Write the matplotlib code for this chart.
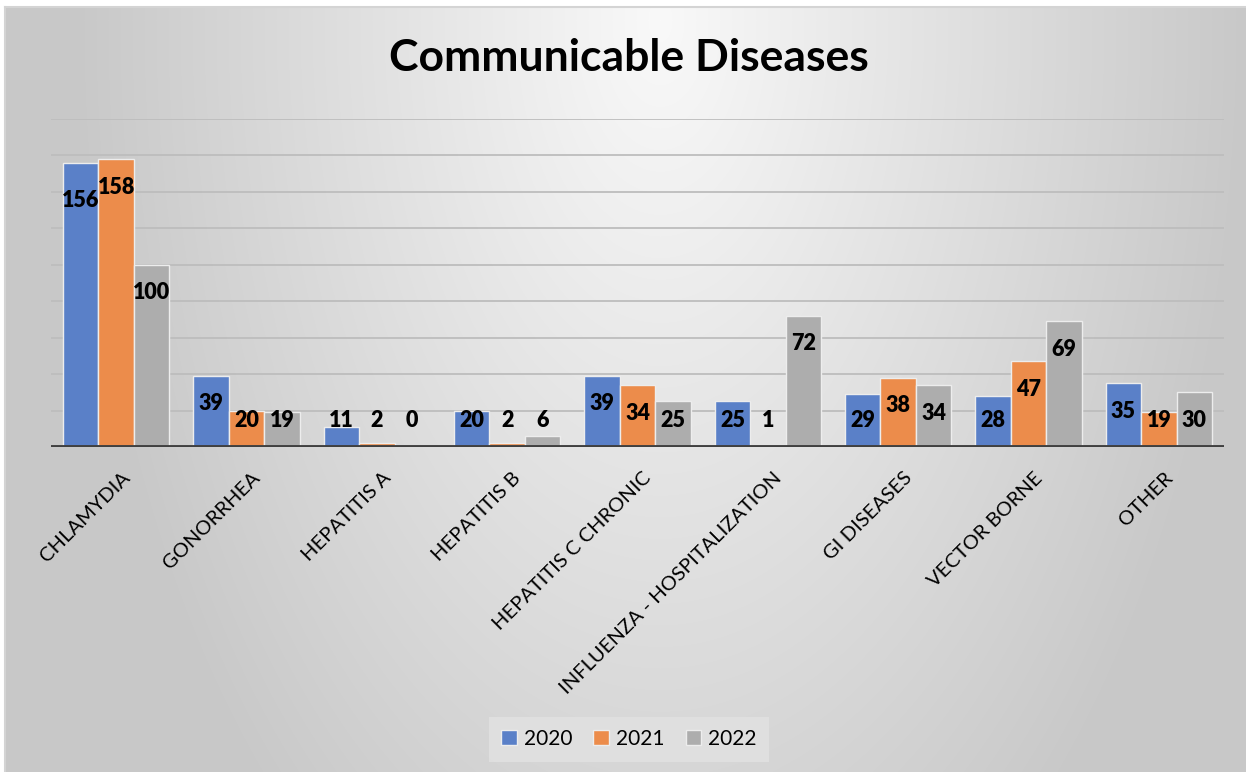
import numpy as np
import matplotlib.pyplot as plt
from matplotlib.patches import Patch
from matplotlib.transforms import ScaledTranslation

plt.rcParams['font.family'] = ['Lato', 'DejaVu Sans']

# --- data ---
diseases = ['CHLAMYDIA', 'GONORRHEA', 'HEPATITIS A', 'HEPATITIS B',
            'HEPATITIS C CHRONIC', 'INFLUENZA - HOSPITALIZATION',
            'GI DISEASES', 'VECTOR BORNE', 'OTHER']
years = ['2020', '2021', '2022']
cases_2020 = [156, 39, 11, 20, 39, 25, 29, 28, 35]
cases_2021 = [158, 20, 2, 2, 34, 1, 38, 47, 19]
cases_2022 = [100, 19, 0, 6, 25, 72, 34, 69, 30]
series = [cases_2020, cases_2021, cases_2022]
colors = ['#5A80C8', '#EC8C4B', '#ADADAD']

W, H = 1246, 772
fig = plt.figure(figsize=(W / 100, H / 100), dpi=100)
fig.patch.set_facecolor('white')

# background panel with a soft radial gradient
bg = fig.add_axes([0, 0, 1, 1])
bg.set_xlim(0, W)
bg.set_ylim(H, 0)
bg.axis('off')
xx, yy = np.meshgrid(np.arange(W), np.arange(H))
d = np.sqrt(((xx - 660) / 600.0) ** 2 + ((yy - 20) / 1080.0) ** 2)
shade = np.clip(249 - 50 * d, 200, 249) / 255.0
img = np.dstack([shade, shade, shade])
bg.imshow(img[7:, 5:], extent=(5, W, H, 7), aspect='auto', zorder=0)
bg.plot([5, W], [7, 7], color='#D4D4D4', lw=1.5, zorder=1)
bg.plot([5, 5], [7, H], color='#D4D4D4', lw=1.5, zorder=1)

# plot area
left, right, top, base = 51, 1224, 119, 447
ax = fig.add_axes([left / W, 1 - base / H, (right - left) / W, (base - top) / H])
ax.patch.set_alpha(0)
ax.set_xlim(-0.5, len(diseases) - 0.5)
ax.set_ylim(0, 180)

for g in range(20, 181, 20):
    ax.axhline(g, color='#BDBDBD', lw=1.3, zorder=1)

x = np.arange(len(diseases))
bw = 0.272
for i, vals in enumerate(series):
    pos = x + (i - 1) * bw
    ax.bar(pos, vals, width=bw, color=colors[i], edgecolor='#EDEDED',
           linewidth=1, zorder=2, label=years[i])
    for px, v in zip(pos, vals):
        ly = max(v - 15.4, 14.3)
        if i == 0 and v > 150:
            ly -= 5.5  # keep clear of the neighbouring label
        ax.text(px, ly, str(v), ha='center', va='center', fontsize=15.5,
                fontweight='heavy', color='black', zorder=4)

ax.axhline(0, color='#404040', lw=2.8, zorder=3)

for s in ax.spines.values():
    s.set_visible(False)
ax.set_yticks([])
ax.set_xticks(x)
ax.set_xticklabels(diseases, rotation=45, ha='right', va='top',
                   rotation_mode='anchor', fontsize=14.5)
ax.tick_params(axis='x', length=0, pad=16)
shift = ScaledTranslation(5 / 100, 0, fig.dpi_scale_trans)
for lbl in ax.get_xticklabels():
    lbl.set_transform(lbl.get_transform() + shift)

fig.text(629 / W, 1 - 58 / H, 'Communicable Diseases', ha='center', va='center',
         fontsize=32, fontweight='bold')

handles = [Patch(facecolor=c, edgecolor='#EDEDED') for c in colors]
leg = fig.legend(handles, years, loc='center', bbox_to_anchor=(629 / W, 1 - 739 / H),
                 ncol=3, frameon=True, fontsize=15, handlelength=0.75,
                 handleheight=0.75, handletextpad=0.35, columnspacing=1.0,
                 borderpad=0.6, fancybox=False)
leg.get_frame().set_facecolor('#E2E2E2')
leg.get_frame().set_edgecolor('none')

fig.savefig('out.png', dpi=100)
